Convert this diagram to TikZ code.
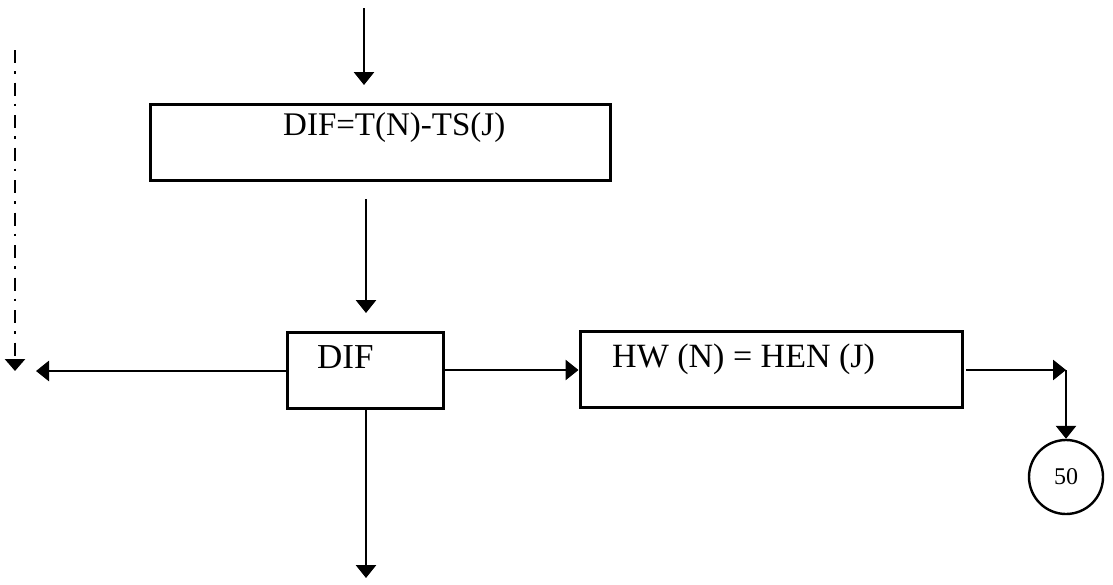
\documentclass[tikz,border=0pt]{standalone}
\usepackage{fontspec}
\setmainfont{Liberation Serif}
\usetikzlibrary{arrows.meta}

\begin{document}
\begin{tikzpicture}[x=1pt, y=-1pt,
  flow/.style={line width=2.8pt, -{Triangle[length=13pt,width=20pt]}},
  stepbox/.style={draw, line width=3pt, rectangle, inner sep=0pt},
  boxtext/.style={anchor=base west, inner sep=0pt},
  connector/.style={draw, circle, line width=2.4pt, minimum size=74pt, inner sep=0pt,
    font=\fontsize{24}{28}\selectfont},
  loopback/.style={line width=2.8pt, dash pattern=on 13pt off 8pt on 2.5pt off 9pt,
    -{Triangle[length=12pt,width=20pt]}}
]
\useasboundingbox (0,0) rectangle (1113,584);

% boxes
\node[stepbox, minimum width=460pt, minimum height=76pt] (calc) at (380,142.5) {};
\node[boxtext, font=\fontsize{33}{40}\selectfont] (calctxt) at (283,135) {DIF=T(N)-TS(J)};

\node[stepbox, minimum width=156pt, minimum height=76pt] (dif) at (365,370) {};
\node[boxtext, font=\fontsize{35}{42}\selectfont] (diftxt) at (317,368) {DIF};

\node[stepbox, minimum width=382pt, minimum height=76pt] (hw) at (771,369) {};
\node[boxtext, font=\fontsize{34}{41}\selectfont] (hwtxt) at (612,367) {HW (N) = HEN (J)};

\node[connector] (c50) at (1066,477) {50};

% free ends of the connectors
\coordinate (intop) at (364,8);
\coordinate (inend) at (364,85);
\coordinate (calcout) at (366,199);
\coordinate (difin) at (366,313);
\coordinate (leftend) at (36,371);
\coordinate (downend) at (366,578);
\coordinate (hwout) at (966,370);
\coordinate (corner) at (1066,370);
\coordinate (dashtop) at (15,50);
\coordinate (dashend) at (15,371);

% connectors
\draw[flow] (intop) -- (inend);
\draw[flow] (calcout) -- (difin);
\draw[flow] (dif.west |- leftend) -- (leftend);
\draw[flow] (dif.south -| downend) -- (downend);
\draw[flow] (dif.east |- 0,370) -- (hw.west |- 0,370);
\draw[flow] (hwout) -- (corner);
\draw[flow] (corner) -- (c50.north);

% dash-dotted return line
\draw[loopback] (dashtop) -- (dashend);
\end{tikzpicture}
\end{document}
